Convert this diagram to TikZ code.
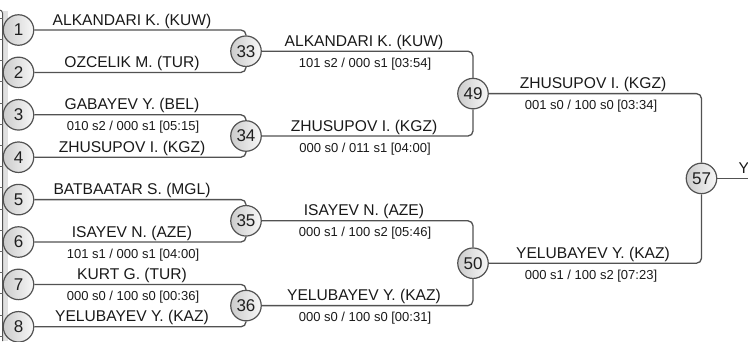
\documentclass[tikz,border=0pt]{standalone}
\usepackage{fontspec}
\setmainfont{Liberation Sans}
\begin{document}
\begin{tikzpicture}[x=1pt,y=-1pt,
  conn/.style={draw=black!68, line width=1.3pt, rounded corners=5pt},
  seed/.style={circle, draw=black!68, line width=1.2pt, minimum size=30.5pt, inner sep=0pt,
    left color=black!20, right color=black!3, text=black!88,
    font=\fontsize{17}{17}\selectfont},
  pname/.style={anchor=base, inner sep=0pt, text=black!90, font=\fontsize{15.6}{16}\selectfont},
  pscore/.style={anchor=base, inner sep=0pt, text=black!90, font=\fontsize{13}{13}\selectfont}]
\useasboundingbox (0,0) rectangle (748,341);
% left edge remnants
\fill[black!12] (3,11) rectangle (8,341);
\draw[black!68, line width=1pt, rounded corners=3pt] (0,10) -- (2.5,10) -- (2.5,341);
\foreach \yy in {18,39,60,81,103,124,145,166,187,209,230,251,272,293,315,336}
  \draw[black!60, line width=0.8pt] (0,\yy) -- (2.5,\yy);
% round 1 seeds
\node[seed] (n1) at (18.5,30) {1};
\node[seed] (n2) at (18.5,72.4) {2};
\node[seed] (n3) at (18.5,114.8) {3};
\node[seed] (n4) at (18.5,157.2) {4};
\node[seed] (n5) at (18.5,199.6) {5};
\node[seed] (n6) at (18.5,242) {6};
\node[seed] (n7) at (18.5,284.4) {7};
\node[seed] (n8) at (18.5,326.8) {8};
% round 2
\node[seed] (n33) at (246,51.2) {33};
\node[seed] (n34) at (246,136) {34};
\node[seed] (n35) at (246,220.8) {35};
\node[seed] (n36) at (246,305.6) {36};
% round 3
\node[seed] (n49) at (473,93.6) {49};
\node[seed] (n50) at (473,263.2) {50};
% final
\node[seed] (n57) at (701.5,178.4) {57};
\coordinate (fin) at (748,178.4);
% connectors
\draw[conn] (n1) -- (n1 -| n33) -- (n33);
\draw[conn] (n2) -- (n2 -| n33) -- (n33);
\draw[conn] (n3) -- (n3 -| n34) -- (n34);
\draw[conn] (n4) -- (n4 -| n34) -- (n34);
\draw[conn] (n5) -- (n5 -| n35) -- (n35);
\draw[conn] (n6) -- (n6 -| n35) -- (n35);
\draw[conn] (n7) -- (n7 -| n36) -- (n36);
\draw[conn] (n8) -- (n8 -| n36) -- (n36);
\draw[conn] (n33) -- (n33 -| n49) -- (n49);
\draw[conn] (n34) -- (n34 -| n49) -- (n49);
\draw[conn] (n35) -- (n35 -| n50) -- (n50);
\draw[conn] (n36) -- (n36 -| n50) -- (n50);
\draw[conn] (n49) -- (n49 -| n57) -- (n57);
\draw[conn] (n50) -- (n50 -| n57) -- (n57);
\draw[conn] (n57) -- (fin);
% round 1 labels
\node[pname] (a1) at (132,25) {ALKANDARI K. (KUW)};
\node[pname] (a2) at (132,67.4) {OZCELIK M. (TUR)};
\node[pname] (a3) at (132,109.8) {GABAYEV Y. (BEL)};
\node[pscore] (s3) at (133,130.8) {010 s2 / 000 s1 [05:15]};
\node[pname] (a4) at (132,152.2) {ZHUSUPOV I. (KGZ)};
\node[pname] (a5) at (132,194.6) {BATBAATAR S. (MGL)};
\node[pname] (a6) at (132,237) {ISAYEV N. (AZE)};
\node[pscore] (s6) at (133,258) {101 s1 / 000 s1 [04:00]};
\node[pname] (a7) at (132,279.4) {KURT G. (TUR)};
\node[pscore] (s7) at (133,300.4) {000 s0 / 100 s0 [00:36]};
\node[pname] (a8) at (132,321.8) {YELUBAYEV Y. (KAZ)};
% round 2 labels
\node[pname] (b1) at (364,46.2) {ALKANDARI K. (KUW)};
\node[pscore] (bs1) at (365,67.2) {101 s2 / 000 s1 [03:54]};
\node[pname] (b2) at (364,131) {ZHUSUPOV I. (KGZ)};
\node[pscore] (bs2) at (365,152) {000 s0 / 011 s1 [04:00]};
\node[pname] (b3) at (364,215.8) {ISAYEV N. (AZE)};
\node[pscore] (bs3) at (365,236.8) {000 s1 / 100 s2 [05:46]};
\node[pname] (b4) at (364,300.6) {YELUBAYEV Y. (KAZ)};
\node[pscore] (bs4) at (365,321.6) {000 s0 / 100 s0 [00:31]};
% round 3 labels
\node[pname] (c1) at (593,88.6) {ZHUSUPOV I. (KGZ)};
\node[pscore] (cs1) at (591,109.6) {001 s0 / 100 s0 [03:34]};
\node[pname] (c2) at (593,258.2) {YELUBAYEV Y. (KAZ)};
\node[pscore] (cs2) at (591,279.2) {000 s1 / 100 s2 [07:23]};
% final label
\node[pname, anchor=base west] (f1) at (738.5,173.4) {Y};
\end{tikzpicture}
\end{document}
